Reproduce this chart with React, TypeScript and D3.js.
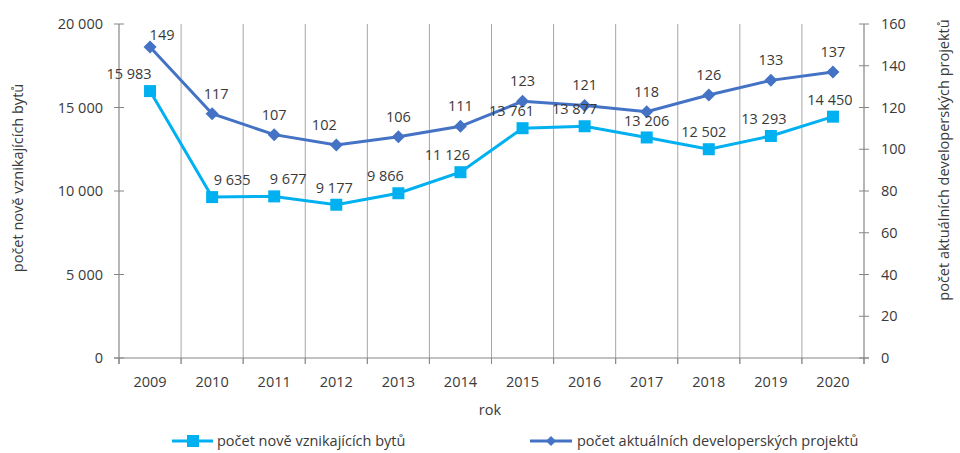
import React from "react";
import * as d3 from "d3";

const years = ["2009", "2010", "2011", "2012", "2013", "2014", "2015", "2016", "2017", "2018", "2019", "2020"];
const flats = [15983, 9635, 9677, 9177, 9866, 11126, 13761, 13877, 13206, 12502, 13293, 14450];
const projects = [149, 117, 107, 102, 106, 111, 123, 121, 118, 126, 133, 137];
const leftTicks = [0, 5000, 10000, 15000, 20000];
const rightTicks = [0, 20, 40, 60, 80, 100, 120, 140, 160];

// label nudges (dx) relative to each point
const flatsNudge = [-21, 20, 14, -2, -13, -13, -11, -10, 0, -5, -7, -3];
const projNudge = [12, 4, 0, -12, 0, 0, 0, 0, 0, 0, 0, 0];

const W = 960, H = 453;
const M = { left: 119, right: 864, top: 24, bottom: 358 };
const FONT = "'Open Sans', sans-serif";
const TXT = "#3a3a3a";
const C1 = "#00B0F0";
const C2 = "#4472C4";

const fmt = (v: number) => {
  const s = String(v);
  return s.replace(/\B(?=(\d{3})+(?!\d))/g, " ");
};

export default function App() {
  const x = d3.scaleBand().domain(years).range([M.left, M.right]);
  const yL = d3.scaleLinear().domain([0, 20000]).range([M.bottom, M.top]);
  const yR = d3.scaleLinear().domain([0, 160]).range([M.bottom, M.top]);
  const cx = (y: string) => (x(y) as number) + x.bandwidth() / 2;

  const line1 = d3.line<number>().x((_, i) => cx(years[i])).y((d) => yL(d));
  const line2 = d3.line<number>().x((_, i) => cx(years[i])).y((d) => yR(d));

  const boundaries = d3.range(years.length + 1).map((i) => M.left + i * x.bandwidth());
  const fs = 14.5;

  return (
    <svg width={W} height={H} style={{ position: "absolute", left: 0, top: 0, background: "#fff" }} fontFamily={FONT}>
      {/* vertical gridlines */}
      {boundaries.slice(1, -1).map((bx, i) => (
        <line key={"g" + i} x1={bx} x2={bx} y1={M.top} y2={M.bottom + 6} stroke="#a6a6a6" strokeWidth={1} />
      ))}
      {/* x axis */}
      <line x1={M.left - 5} x2={M.right + 5} y1={M.bottom} y2={M.bottom} stroke="#868686" strokeWidth={1.2} />
      {boundaries.map((bx, i) => (
        <line key={"xt" + i} x1={bx} x2={bx} y1={M.bottom} y2={M.bottom + 6} stroke="#868686" strokeWidth={1} />
      ))}
      {/* left axis */}
      <line x1={M.left} x2={M.left} y1={M.top} y2={M.bottom + 6} stroke="#868686" strokeWidth={1.2} />
      {leftTicks.map((t) => (
        <g key={"l" + t}>
          <line x1={M.left - 5} x2={M.left + 5} y1={yL(t)} y2={yL(t)} stroke="#868686" />
          <text x={M.left - 16} y={yL(t)} dy="0.35em" textAnchor="end" fontSize={fs} fill={TXT}>{fmt(t)}</text>
        </g>
      ))}
      {/* right axis */}
      <line x1={M.right} x2={M.right} y1={M.top} y2={M.bottom + 6} stroke="#868686" strokeWidth={1.2} />
      {rightTicks.map((t) => (
        <g key={"r" + t}>
          <line x1={M.right - 5} x2={M.right + 5} y1={yR(t)} y2={yR(t)} stroke="#868686" />
          <text x={M.right + 17} y={yR(t)} dy="0.35em" textAnchor="start" fontSize={fs} fill={TXT}>{t}</text>
        </g>
      ))}
      {/* x labels */}
      {years.map((y) => (
        <text key={"xl" + y} x={cx(y)} y={382} dy="0.35em" textAnchor="middle" fontSize={fs} fill={TXT}>{y}</text>
      ))}
      <text x={490} y={410} dy="0.35em" textAnchor="middle" fontSize={fs} fill={TXT}>rok</text>
      {/* axis titles */}
      <text transform={`translate(18,178) rotate(-90)`} dy="0.35em" textAnchor="middle" fontSize={fs} fill={TXT}>počet nově vznikajících bytů</text>
      <text transform={`translate(944,160) rotate(-90)`} dy="0.35em" textAnchor="middle" fontSize={fs} fill={TXT}>počet aktuálních developerských projektů</text>

      {/* series lines */}
      <path d={line1(flats) as string} fill="none" stroke={C1} strokeWidth={3} />
      <path d={line2(projects) as string} fill="none" stroke={C2} strokeWidth={3} />
      {flats.map((v, i) => (
        <rect key={"m1" + i} x={cx(years[i]) - 6} y={yL(v) - 6} width={12} height={12} fill={C1} />
      ))}
      {projects.map((v, i) => (
        <path key={"m2" + i} d={`M${cx(years[i])},${yR(v) - 6.5}l6.5,6.5l-6.5,6.5l-6.5,-6.5z`} fill={C2} />
      ))}
      {/* data labels */}
      {flats.map((v, i) => (
        <text key={"t1" + i} x={cx(years[i]) + flatsNudge[i]} y={yL(v) - 17} dy="0.35em" textAnchor="middle" fontSize={fs} fill={TXT}>{fmt(v)}</text>
      ))}
      {projects.map((v, i) => (
        <text key={"t2" + i} x={cx(years[i]) + projNudge[i]} y={yR(v) - (i === 0 ? 12 : 20)} dy="0.35em" textAnchor="middle" fontSize={fs} fill={TXT}>{v}</text>
      ))}

      {/* legend */}
      <line x1={172} x2={213} y1={441} y2={441} stroke={C1} strokeWidth={3} />
      <rect x={187} y={435} width={12} height={12} fill={C1} />
      <text x={217} y={441} dy="0.35em" fontSize={fs} fill={TXT}>počet nově vznikajících bytů</text>
      <line x1={530} x2={572} y1={441} y2={441} stroke={C2} strokeWidth={3} />
      <path d={`M551,436l5,5l-5,5l-5,-5z`} fill={C2} />
      <text x={577} y={441} dy="0.35em" fontSize={fs} fill={TXT}>počet aktuálních developerských projektů</text>
    </svg>
  );
}
